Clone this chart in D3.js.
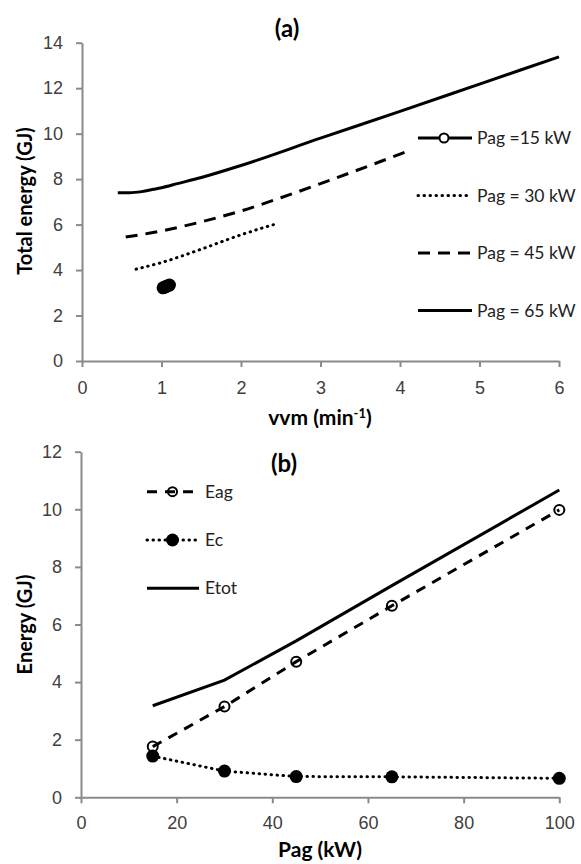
<!DOCTYPE html>
<html><head><meta charset="utf-8">
<script src="https://cdn.jsdelivr.net/npm/d3@7"></script>
<style>
body{margin:0;background:#fff;}
svg{display:block;font-family:Lato,"Open Sans",sans-serif;}
.tick text{fill:#404040;font-size:18px;}
.domain,.tick line{stroke:#8a8a8a;stroke-width:2;}
</style></head>
<body>
<svg id="c" width="581" height="864"></svg>
<script>
// ---- Chart (a) data ----
const aXTicks = [0,1,2,3,4,5,6];
const aYTicks = [0,2,4,6,8,10,12,14];
const pag15Vvm = [1.02,1.04,1.06,1.08,1.10];
const pag15E   = [3.22,3.25,3.28,3.31,3.34];
const pag30Vvm = [0.68,1.0,1.5,2.0,2.47];
const pag30E   = [4.04,4.33,4.92,5.55,6.06];
const pag45Vvm = [0.55,1.0,1.5,2.0,2.5,3.0,4.0,4.15];
const pag45E   = [5.45,5.72,6.12,6.6,7.18,7.8,9.1,9.3];
const pag65Vvm = [0.45,0.6,0.75,0.9,1.0,1.2,1.5,2,3,4,5,6];
const pag65E   = [7.4,7.4,7.45,7.55,7.62,7.8,8.07,8.6,9.8,10.98,12.18,13.38];
const aLegend  = ["Pag =15 kW","Pag = 30 kW","Pag = 45 kW","Pag = 65 kW"];

// ---- Chart (b) data ----
const bXTicks = [0,20,40,60,80,100];
const bYTicks = [0,2,4,6,8,10,12];
const pagKW = [15,30,45,65,100];
const eag   = [1.76,3.15,4.71,6.65,9.98];
const ec    = [1.43,0.91,0.72,0.71,0.66];
const etot  = [3.18,4.07,5.43,7.35,10.67];
const bLegend = ["Eag","Ec","Etot"];

const svg = d3.select("#c");
const zip = (xs,ys)=>xs.map((x,i)=>[x,ys[i]]);

function drawLine(g,line,data,dash,w,cap){
  g.append("path").datum(data).attr("d",line).attr("fill","none").attr("stroke","#000")
   .attr("stroke-width",w).attr("stroke-dasharray",dash).attr("stroke-linecap",cap||"butt");
}

// ===== Chart (a) =====
const xa = d3.scaleLinear().domain([0,6]).range([82,559]);
const ya = d3.scaleLinear().domain([0,14]).range([361,42.7]);
const ga = svg.append("g");
ga.append("g").attr("transform","translate(0,361)")
  .call(d3.axisBottom(xa).tickValues(aXTicks).tickFormat(d3.format("d")).tickSizeInner(6).tickSizeOuter(0).tickPadding(14));
ga.append("g").attr("transform","translate(82,0)")
  .call(d3.axisLeft(ya).tickValues(aYTicks).tickSizeInner(6).tickSizeOuter(0).tickPadding(13));
const la = d3.line().x(d=>xa(d[0])).y(d=>ya(d[1])).curve(d3.curveMonotoneX);
drawLine(ga,la,zip(pag65Vvm,pag65E),null,3);
drawLine(ga,la,zip(pag45Vvm,pag45E),"12,8",3);
drawLine(ga,la,zip(pag30Vvm,pag30E),"0.5,5.5",3,"round");
ga.append("g").selectAll("circle").data(zip(pag15Vvm,pag15E)).join("circle")
  .attr("cx",d=>xa(d[0])).attr("cy",d=>ya(d[1])).attr("r",6.5).attr("fill","#000");

// legend (a)
const aLegY = [138,195.5,253,310.5];
const aLegDash = [null,"0.5,5.5","12,8",null];
aLegend.forEach((t,i)=>{
  const y = aLegY[i];
  ga.append("line").attr("x1",418).attr("x2",472).attr("y1",y).attr("y2",y)
    .attr("stroke","#000").attr("stroke-width",3).attr("stroke-dasharray",aLegDash[i])
    .attr("stroke-linecap",i==1?"round":"butt");
  if(i==0) ga.append("circle").attr("cx",444).attr("cy",y).attr("r",4.5).attr("fill","#fff").attr("stroke","#000").attr("stroke-width",2);
  ga.append("text").attr("x",477).attr("y",y).attr("dy","0.35em").attr("font-size",17.5).attr("fill","#222").text(t);
});
ga.append("text").attr("x",287).attr("y",37).attr("text-anchor","middle").attr("font-weight","bold").attr("font-size",24).text("(a)");
const xta = ga.append("text").attr("x",320).attr("y",425).attr("text-anchor","middle").attr("font-weight","bold").attr("font-size",21);
xta.append("tspan").text("vvm (min");
xta.append("tspan").attr("dy",-7).attr("font-size",13).text("-1");
xta.append("tspan").attr("dy",7).text(")");
ga.append("text").attr("transform","translate(32,201) rotate(-90)").attr("text-anchor","middle").attr("font-weight","bold").attr("font-size",20).text("Total energy (GJ)");

// ===== Chart (b) =====
const xb = d3.scaleLinear().domain([0,100]).range([81,559.3]);
const yb = d3.scaleLinear().domain([0,12]).range([797.3,451.7]);
const gb = svg.append("g");
gb.append("g").attr("transform","translate(0,797.3)")
  .call(d3.axisBottom(xb).tickValues(bXTicks).tickSizeInner(6).tickSizeOuter(0).tickPadding(13));
gb.append("g").attr("transform","translate(81,0)")
  .call(d3.axisLeft(yb).tickValues(bYTicks).tickSizeInner(6).tickSizeOuter(0).tickPadding(13));
const lb = d3.line().x(d=>xb(d[0])).y(d=>yb(d[1]));
drawLine(gb,lb,zip(pagKW,etot),null,3);
drawLine(gb,lb,zip(pagKW,eag),"10,8",3);
drawLine(gb,lb,zip(pagKW,ec),"0.5,5.5",3,"round");
gb.append("g").selectAll("circle").data(zip(pagKW,eag)).join("circle")
  .attr("cx",d=>xb(d[0])).attr("cy",d=>yb(d[1])).attr("r",5).attr("fill","none").attr("stroke","#000").attr("stroke-width",2);
gb.append("g").selectAll("circle").data(zip(pagKW,ec)).join("circle")
  .attr("cx",d=>xb(d[0])).attr("cy",d=>yb(d[1])).attr("r",6.5).attr("fill","#000");

// legend (b)
const bLegY = [491.7,540,588.3];
bLegend.forEach((t,i)=>{
  const y = bLegY[i];
  gb.append("line").attr("x1",147).attr("x2",199).attr("y1",y).attr("y2",y)
    .attr("stroke","#000").attr("stroke-width",3)
    .attr("stroke-dasharray",i==0?"10,8":(i==1?"0.5,5.5":null))
    .attr("stroke-linecap",i==1?"round":"butt");
  if(i==0) gb.append("circle").attr("cx",172.5).attr("cy",y).attr("r",4.5).attr("fill","none").attr("stroke","#000").attr("stroke-width",2);
  if(i==1) gb.append("circle").attr("cx",172.5).attr("cy",y).attr("r",6.5).attr("fill","#000");
  gb.append("text").attr("x",205).attr("y",y).attr("dy","0.35em").attr("font-size",17.5).attr("fill","#222").text(t);
});
gb.append("text").attr("x",284).attr("y",472).attr("text-anchor","middle").attr("font-weight","bold").attr("font-size",24).text("(b)");
gb.append("text").attr("x",320).attr("y",857).attr("text-anchor","middle").attr("font-weight","bold").attr("font-size",21).text("Pag (kW)");
gb.append("text").attr("transform","translate(32,624.5) rotate(-90)").attr("text-anchor","middle").attr("font-weight","bold").attr("font-size",20).text("Energy (GJ)");
</script>
</body></html>
